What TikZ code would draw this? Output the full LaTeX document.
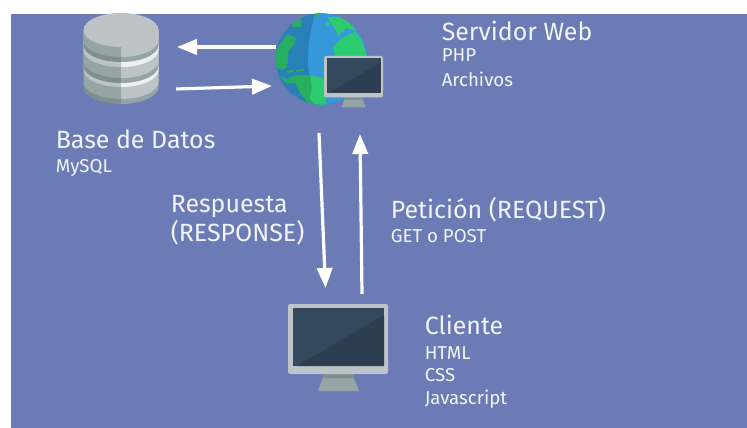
\documentclass[tikz,border=0pt]{standalone}
\usepackage{fontspec}
\setmainfont{Fira Sans}
\usetikzlibrary{arrows.meta}
\definecolor{panel}{HTML}{6B7BB5}
\definecolor{dbl}{HTML}{95A5A6}
\definecolor{dbr}{HTML}{BDC3C7}
\definecolor{dbdl}{HTML}{7F8F8E}
\definecolor{dbwr}{HTML}{ECF0F1}
\definecolor{oceand}{HTML}{2980B9}
\definecolor{oceanl}{HTML}{3498DB}
\definecolor{landd}{HTML}{27AE60}
\definecolor{landl}{HTML}{2ECC71}
\definecolor{scrl}{HTML}{34495E}
\definecolor{scrd}{HTML}{2C3E50}
\definecolor{txt}{HTML}{F2F4FA}
\newcommand{\dblayer}[3]{%
  \fill[#2] (83.5,30) -- (83.5,#1) arc[start angle=180,end angle=90,x radius=37.5,y radius=17] -- (121,30) -- cycle;
  \fill[#3] (158.5,30) -- (158.5,#1) arc[start angle=0,end angle=90,x radius=37.5,y radius=17] -- (121,30) -- cycle;}
\tikzset{
  link/.style={white,line width=2.4pt,-{Triangle[length=15pt,width=11.5pt]}},
  big/.style={anchor=base west,text=txt,inner sep=0pt,font=\fontsize{18.7}{20}\selectfont},
  small/.style={anchor=base west,text=txt,inner sep=0pt,font=\fontsize{14}{16}\selectfont},
  monitor/.pic={
    \fill[dbl] (36,70) -- (64,70) -- (71,87) -- (30,87) -- cycle;
    \fill[dbdl] (36,70) -- (64,70) -- (65,74) -- (35,74) -- cycle;
    \fill[dbr,rounded corners=1.5pt] (0,0) rectangle (100,70);
    \fill[scrl] (4.5,4) rectangle (96,62);
    \fill[scrd] (9,62) -- (96,11) -- (96,62) -- cycle;
  }
}
\begin{document}
\begin{tikzpicture}[x=0.75pt,y=-0.75pt]
\useasboundingbox (0,0) rectangle (747,428);
\fill[panel] (11,14) rectangle (747,428);
\begin{scope}
\clip (11,14) rectangle (747,428);
% database
\dblayer{87}{dbdl}{dbl}
\dblayer{82}{dbl}{dbr}
\dblayer{70}{dbr}{dbwr}
\dblayer{66}{dbdl}{dbl}
\dblayer{61}{dbl}{dbr}
\dblayer{50}{dbr}{dbwr}
\dblayer{45}{dbdl}{dbl}
\dblayer{40}{dbl}{dbr}
\fill[dbr] (121,30) ellipse [x radius=37.5,y radius=17];
% globe
\begin{scope}[shift={(270,10)},x=0.25pt,y=-0.25pt]
\clip (154,147) circle [radius=137];
\fill[oceand] (154,147) circle [radius=137];
\fill[oceanl] (140,0) .. controls (120,50) and (105,150) .. (120,200) .. controls (130,240) and (145,265) .. (170,290) -- (300,290) -- (300,0) -- cycle;
\fill[landd] (70,30) -- (95,25) -- (92,50) -- (65,52) -- cycle;
\fill[landd] (128,8) -- (152,8) -- (140,22) -- cycle;
\fill[landd] (17,130) .. controls (25,105) and (40,90) .. (52,72) -- (78,85) -- (75,100) -- (55,125) -- (52,170) -- (38,180) -- (14,172) -- cycle;
\fill[landd] (50,182) -- (72,180) -- (70,186) -- (50,188) -- cycle;
\fill[landd] (78,180) -- (102,178) -- (100,183) -- (78,185) -- cycle;
\fill[landd] (28,195) -- (50,208) -- (75,195) -- (122,195) -- (125,240) -- (118,265) -- (135,285) -- (115,280) -- (90,250) -- (75,218) -- (50,220) -- cycle;
\fill[landl] (122,195) -- (160,205) -- (168,288) -- (135,285) -- (118,265) -- (125,240) -- cycle;
\fill[landl] (190,112) -- (210,88) -- (255,65) -- (275,90) -- (295,150) -- (295,220) -- (200,170) -- cycle;
\fill[landl] (172,22) -- (205,20) -- (240,32) -- (258,62) -- (228,55) -- (206,78) -- (190,50) -- cycle;
\fill[landl] (168,38) -- (180,38) -- (176,47) -- (168,46) -- cycle;
\end{scope}
\end{scope}
\pic (webmon) [shift={(324,56)},scale=0.59] {monitor};
\pic (climon) [shift={(288,304)}] {monitor};
% anchors of the connectors
\coordinate (wa) at (276,47);
\coordinate (da) at (177,47);
\coordinate (db) at (176,89);
\coordinate (wb) at (272,86);
\coordinate (wc) at (319,133);
\coordinate (ca) at (325.5,288);
\coordinate (cb) at (362,294);
\coordinate (wd) at (360,134);
\draw[link] (wa) -- (da);
\draw[link] (db) -- (wb);
\draw[link] (wc) -- (ca);
\draw[link] (cb) -- (wd);
% texts
\node[big] (t1) at (441.5,41) {Servidor Web};
\node[small] (t2) at (441.5,62) {PHP};
\node[small] (t3) at (441.5,87) {Archivos};
\node[big] (t4) at (55.5,148) {Base de Datos};
\node[small] (t5) at (55.5,172) {MySQL};
\node[big] (t6) at (170.5,212) {Respuesta};
\node[big] (t7) at (170.5,241) {(RESPONSE)};
\node[big] (t8) at (390.5,219) {Petición (REQUEST)};
\node[small] (t9) at (390.5,243) {GET o POST};
\node[big] (t10) at (424.5,334) {Cliente};
\node[small] (t11) at (424.5,359) {HTML};
\node[small] (t12) at (424.5,381) {CSS};
\node[small] (t13) at (424.5,404) {Javascript};
\end{tikzpicture}
\end{document}
